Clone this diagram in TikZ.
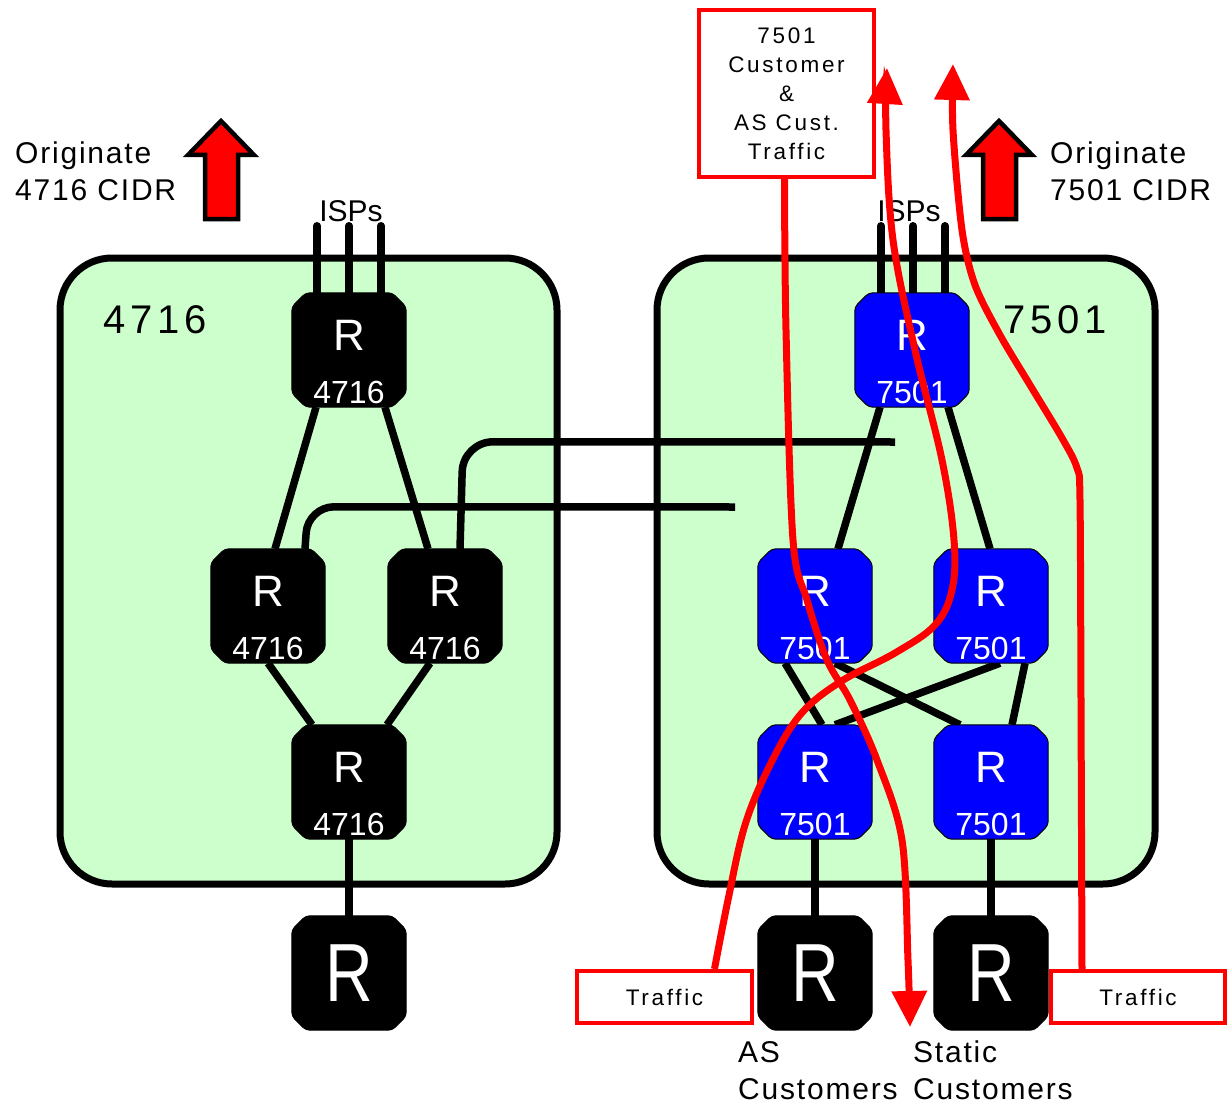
\documentclass[tikz,border=0pt]{standalone}
\usepackage{fontspec}
\setmainfont{Liberation Sans}
\newfontfamily\spc[LetterSpace=6]{Liberation Sans}
\newfontfamily\spcw[LetterSpace=12]{Liberation Sans}
\usetikzlibrary{arrows.meta,calc}
\pgfdeclarelayer{bg}
\pgfdeclarelayer{wires}
\pgfsetlayers{bg,wires,main}
\definecolor{asgreen}{RGB}{204,255,204}
\definecolor{rblue}{RGB}{0,0,255}
\definecolor{tred}{RGB}{255,0,0}
\begin{document}
\begin{tikzpicture}[x=1pt,y=-1pt,
  asbox/.style={draw=black,line width=7pt,fill=asgreen,rounded corners=52pt},
  router/.style={rectangle,minimum width=114pt,minimum height=114pt,inner sep=0pt},
  rbody/.style={draw=black,line width=1pt,rounded corners=4pt},
  rlab/.style={text=white,font=\fontsize{44}{44}\selectfont,inner sep=0pt},
  nlab/.style={text=white,font=\fontsize{32}{32}\selectfont,inner sep=0pt},
  bigr/.style={text=white,font=\fontsize{66}{66}\selectfont,inner sep=0pt},
  wire/.style={draw=black,line width=7.5pt},
  redline/.style={draw=tred,line width=7pt},
  redtip/.style={-{Triangle[length=36pt,width=34pt]}},
  redbox/.style={draw=tred,line width=4pt,fill=white,inner sep=0pt},
  blockarrow/.style={fill=tred,draw=black,line width=4.5pt,line join=miter},
  txt/.style={font=\spc\fontsize{30}{37}\selectfont,inner sep=0pt,align=left},
  smalltxt/.style={font=\spcw\fontsize{22.5}{29}\selectfont,inner sep=0pt,align=center}
]
\useasboundingbox (0,0) rectangle (1227,1105);

% AS clouds
\begin{pgfonlayer}{bg}
\draw[asbox] (60,258) rectangle (557,884);
\draw[asbox] (657,258) rectangle (1155,884);
\end{pgfonlayer}
\node[font=\spcw\fontsize{40}{40}\selectfont,inner sep=0pt] (as1) at (155,320) {4716};
\node[font=\spcw\fontsize{40}{40}\selectfont,inner sep=0pt] (as2) at (1055,320) {7501};

% routers AS 4716
\node[router] (a1) at (349,350) {};
\node[router] (a2) at (268,606) {};
\node[router] (a3) at (445,606) {};
\node[router] (a4) at (349,782) {};
\node[router] (a5) at (349,973) {};
% routers AS 7501
\node[router] (b1) at (912,350) {};
\node[router] (b2) at (815,606) {};
\node[router] (b3) at (991,606) {};
\node[router] (b4) at (815,782) {};
\node[router] (b5) at (991,782) {};
\node[router] (c1) at (815,973) {};
\node[router] (c2) at (991,973) {};

% chamfered router bodies
\foreach \n/\c in {a1/black,a2/black,a3/black,a4/black,a5/black,b1/rblue,b2/rblue,b3/rblue,b4/rblue,b5/rblue,c1/black,c2/black}{
  \filldraw[rbody,fill=\c] ($(\n.north west)+(14,0)$) -- ($(\n.north east)+(-14,0)$) -- ($(\n.north east)+(0,14)$) -- ($(\n.south east)+(0,-14)$) -- ($(\n.south east)+(-14,0)$) -- ($(\n.south west)+(14,0)$) -- ($(\n.south west)+(0,-14)$) -- ($(\n.north west)+(0,14)$) -- cycle;
}

\foreach \n/\t in {a1/4716,a2/4716,a3/4716,a4/4716,b1/7501,b2/7501,b3/7501,b4/7501,b5/7501}{
  \node[rlab] (\n R) at ($(\n.center)+(0,-15)$) {R};
  \node[nlab] (\n N) at ($(\n.center)+(0,42)$) {\t};
}
\node[bigr,yscale=1.25] (a5R) at (a5.center) {R};
\node[bigr,yscale=1.25] (c1R) at (c1.center) {R};
\node[bigr,yscale=1.25] (c2R) at (c2.center) {R};

% wires
\begin{pgfonlayer}{wires}
\foreach \dx in {-32,0,32}{
  \draw[wire,line cap=round] ($(a1.north)+(\dx,0)$) -- ($(a1.north)+(\dx,-67)$);
  \draw[wire,line cap=round] ($(b1.north)+(\dx+1,0)$) -- ($(b1.north)+(\dx+1,-67)$);
}
\draw[wire] ($(a1.south)+(-33,0)$) -- ($(a2.north)+(7,0)$);
\draw[wire] ($(a1.south)+(36,0)$) -- ($(a3.north)+(-17,0)$);
\draw[wire] ($(a2.south)+(0,0)$) -- ($(a4.north)+(-37,0)$);
\draw[wire] ($(a3.south)+(-15,0)$) -- ($(a4.north)+(38,0)$);
\draw[wire] (a4.south) -- (a5.north);
\draw[wire] ($(b1.south)+(-32,0)$) -- ($(b2.north)+(23,0)$);
\draw[wire] ($(b1.south)+(36,0)$) -- ($(b3.north)+(-1,0)$);
\draw[wire] ($(b2.south)+(-30,0)$) -- ($(b4.north)+(7,0)$);
\draw[wire] ($(b2.south)+(20,0)$) -- ($(b5.north)+(-31,0)$);
\draw[wire] ($(b3.south)+(9,0)$) -- ($(b4.north)+(20,0)$);
\draw[wire] ($(b3.south)+(34,0)$) -- ($(b5.north)+(21,0)$);
\draw[wire] (b4.south) -- (c1.north);
\draw[wire] (b5.south) -- (c2.north);
\coordinate (e1) at (895,442);
\coordinate (e2) at (735,507);
\draw[wire,rounded corners=30pt] ($(a3.north)+(15,0)$) -- ($(a3.north)+(18,-107)$) -- (e1);
\draw[wire,rounded corners=26pt] ($(a2.north)+(37,0)$) -- ($(a2.north)+(40,-42)$) -- (e2);
\end{pgfonlayer}

% labels
\node[font=\fontsize{30}{30}\selectfont,inner sep=0pt] (isp1) at (351,211) {ISPs};
\node[font=\fontsize{30}{30}\selectfont,inner sep=0pt] (isp2) at (909,211) {ISPs};
\node[txt,anchor=north west] (or1) at (15,142) {Originate\\4716 CIDR};
\node[txt,anchor=north west] (or2) at (1050,142) {Originate\\7501 CIDR};
\node[txt,anchor=north west] (asc) at (738,1041) {AS\\Customers};
\node[txt,anchor=north west] (stc) at (913,1041) {Static\\Customers};

% block arrows
\draw[blockarrow] (221,121) -- (254,155) -- (238,155) -- (238,219) -- (205,219) -- (205,155) -- (188,155) -- cycle;
\draw[blockarrow] (999,121) -- (1032,155) -- (1016,155) -- (1016,219) -- (983,219) -- (983,155) -- (966,155) -- cycle;

% red boxes
\node[redbox,smalltxt,minimum width=175pt,minimum height=167pt] (tb) at (786.5,93.5) {7501\\Customer\\\&\\AS Cust.\\Traffic};
\node[redbox,smalltxt,minimum width=175pt,minimum height=52pt] (lt) at (664.5,997) {Traffic};
\node[redbox,smalltxt,minimum width=174pt,minimum height=52pt] (rt) at (1138,997) {Traffic};

% red traffic paths
\coordinate (sA) at ($(tb.south)+(-2,0)$);
\coordinate (tipA) at (910,1027);
\coordinate (sB) at ($(lt.north)+(50,0)$);
\coordinate (tipB) at (887,68);
\coordinate (sC) at ($(rt.north)+(-56,0)$);
\coordinate (tipC) at (953,64);
\draw[redline,redtip] plot[smooth,tension=0.55] coordinates {(sA) (786,330) (793,540) (807,600) (827,660) (850,700) (877,760) (902,840) (908,960) (tipA)};
\draw[redline,redtip] plot[smooth,tension=0.6] coordinates {(sB) (728,900) (745,825) (770,765) (800,715) (840,682) (895,653) (935,625) (952,590) (954,540) (942,460) (915,350) (893,240) (886,130) (tipB)};
\draw[redline,redtip] plot[smooth,tension=0.5] coordinates {(sC) (1081,700) (1080,500) (1077,468) (1062,438) (1030,385) (1000,335) (975,285) (962,230) (953,130) (tipC)};
\end{tikzpicture}
\end{document}
